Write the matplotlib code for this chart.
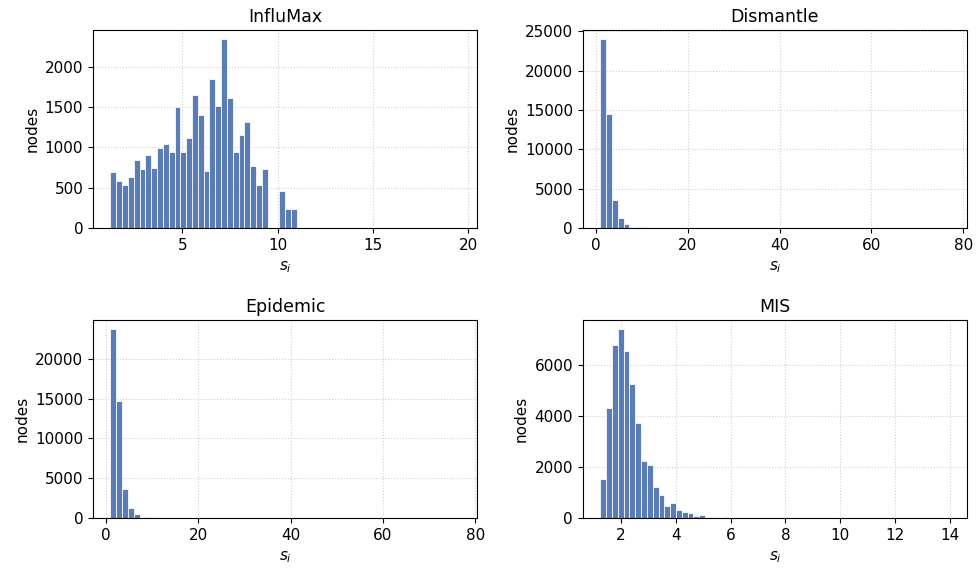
import numpy as np
import matplotlib
matplotlib.use("Agg")
import matplotlib.pyplot as plt

titles = ["InfluMax", "Dismantle", "Epidemic", "MIS"]

# bin ranges (min, max of s_i) and number of bins
n_bins = 60
ranges = {
    "InfluMax": (1.22, 19.56),
    "Dismantle": (1.0, 77.0),
    "Epidemic": (1.0, 76.6),
    "MIS": (1.25, 13.99),
}

influmax_counts = [692, 588, 529, 637, 842, 725, 900, 746, 992, 1042,
                   942, 1504, 938, 1117, 1646, 1404, 712, 1850, 1517, 2337,
                   1612, 942, 1154, 1317, 767, 529, 729, 0, 0, 454,
                   233, 233] + [0] * 27 + [1]
dismantle_counts = [23960, 14440, 3546, 1282, 480, 0, 130, 130] + [0] * 51 + [1]
epidemic_counts = [23670, 14750, 3593, 1310, 465, 0, 150, 150] + [0] * 51 + [1]
mis_counts = [1536, 4344, 6808, 7417, 6570, 5272, 3735, 2225, 2093, 1205,
              924, 488, 607, 304, 224, 198, 66, 132, 53, 20,
              0, 53] + [0] * 37 + [1]

counts = {
    "InfluMax": influmax_counts,
    "Dismantle": dismantle_counts,
    "Epidemic": epidemic_counts,
    "MIS": mis_counts,
}

fig, axes = plt.subplots(2, 2, figsize=(9.76, 5.73), dpi=100)
fig.subplots_adjust(left=0.0953, right=0.9908, top=0.9476, bottom=0.096,
                    wspace=0.275, hspace=0.465)

for ax, name in zip(axes.flat, titles):
    lo, hi = ranges[name]
    edges = np.linspace(lo, hi, n_bins + 1)
    ax.hist(edges[:-1], bins=edges, weights=counts[name],
            color="#4C72B0", alpha=0.92, edgecolor="white", linewidth=0.6)
    ax.set_title(name, fontsize=12.5)
    ax.set_xlabel(r"$s_i$", fontsize=11, labelpad=5)
    ax.set_ylabel("nodes", fontsize=11)
    ax.tick_params(labelsize=11)
    ax.grid(True, linestyle=":", color="#d0d0d0", linewidth=0.8)
    ax.set_axisbelow(True)

fig.savefig("out.png", dpi=100)
